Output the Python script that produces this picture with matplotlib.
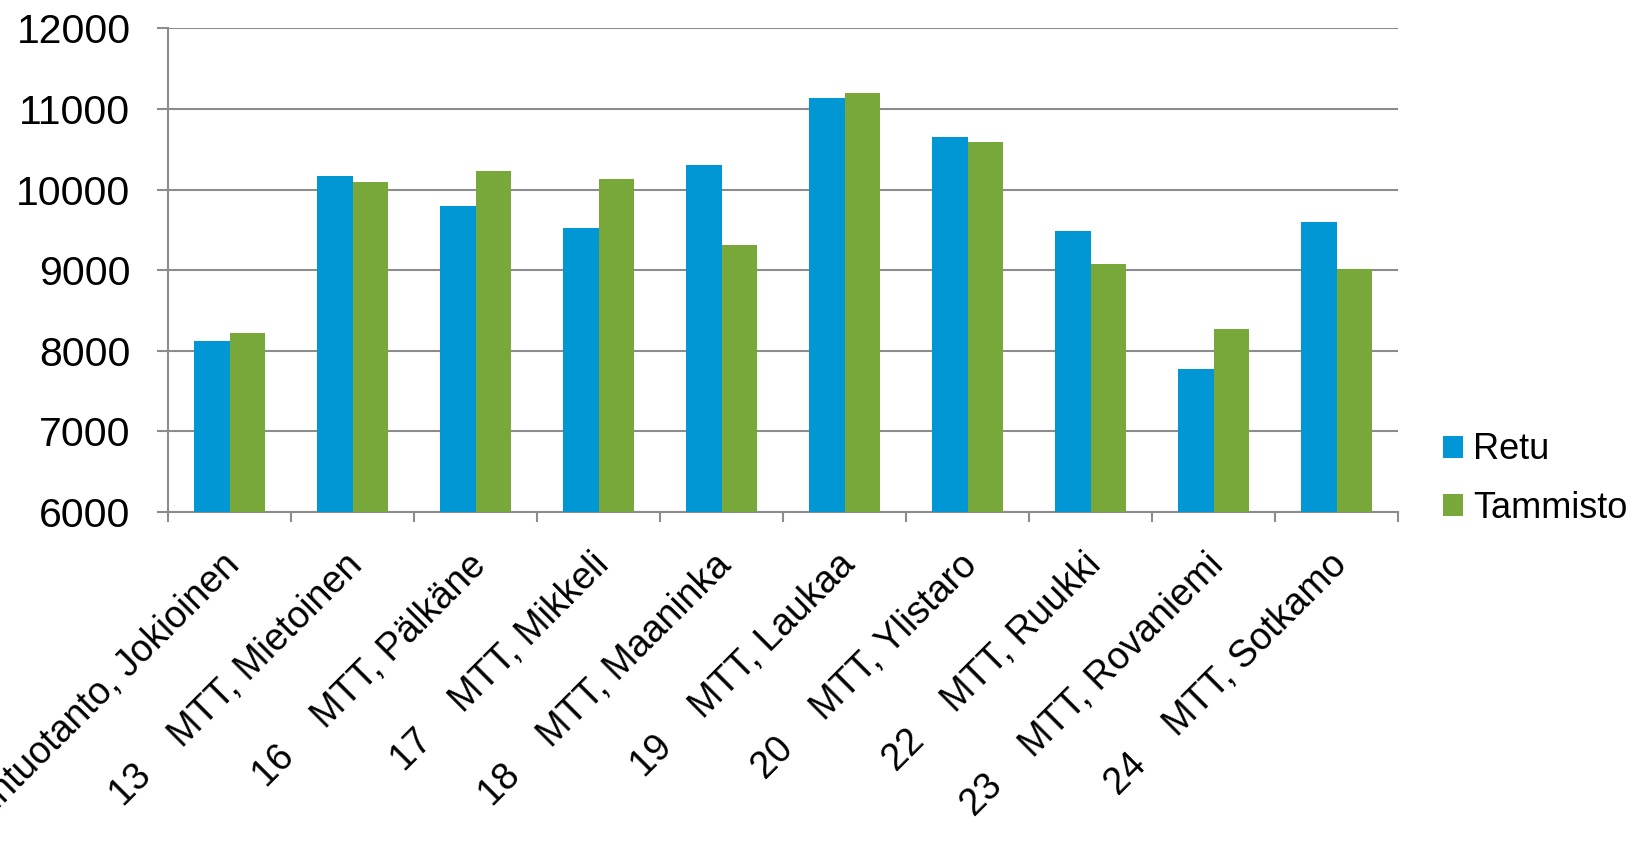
import matplotlib.pyplot as plt
import matplotlib.transforms as mtransforms
import numpy as np

plt.rcParams['font.family'] = ['Liberation Sans', 'DejaVu Sans']

# data
numbers = ['12', '13', '16', '17', '18', '19', '20', '22', '23', '24']
places = ['MTT Kasvintuotanto, Jokioinen', 'MTT, Mietoinen', 'MTT, Pälkäne',
          'MTT, Mikkeli', 'MTT, Maaninka', 'MTT, Laukaa', 'MTT, Ylistaro',
          'MTT, Ruukki', 'MTT, Rovaniemi', 'MTT, Sotkamo']
retu = [8120, 10170, 9790, 9520, 10300, 11130, 10650, 9480, 7770, 9600]
tammisto = [8220, 10090, 10235, 10130, 9310, 11195, 10595, 9080, 8275, 9015]

labels = [n + '    ' + p for n, p in zip(numbers, places)]

blue = '#0097D4'
green = '#78A83A'
grid = '#8C8C8C'

fig = plt.figure(figsize=(16.43, 8.66), dpi=100)
ax = fig.add_axes([168 / 1643, 1 - 512 / 866, (1398 - 168) / 1643, (512 - 28.3) / 866])

x = np.arange(len(labels))
w = 0.285
ax.bar(x - w / 2, retu, w, color=blue, label='Retu', zorder=3)
ax.bar(x + w / 2, tammisto, w, color=green, label='Tammisto', zorder=3)

ax.set_xlim(-0.5, len(labels) - 0.5)
ax.set_ylim(6000, 12000)
ax.set_yticks(range(6000, 12001, 1000))
ax.yaxis.grid(True, color=grid, linewidth=1.5, zorder=0)
ax.tick_params(axis='y', length=8, width=1.5, color=grid, pad=19, labelsize=29.5)

# labels at centres, tick marks at category borders
ax.set_xticks(x)
ax.set_xticklabels(labels, rotation=45, ha='right', va='top',
                   rotation_mode='anchor', fontsize=27)
ax.tick_params(axis='x', which='major', length=0, pad=23)
shift = mtransforms.ScaledTranslation(-8 / 100, -3 / 100, fig.dpi_scale_trans)
for lab in ax.get_xticklabels():
    lab.set_transform(lab.get_transform() + shift)
ax.set_xticks(np.arange(-0.5, len(labels)), minor=True)
ax.tick_params(axis='x', which='minor', length=7, width=1.5, color=grid)

for s in ['top', 'right']:
    ax.spines[s].set_visible(False)
for s in ['left', 'bottom']:
    ax.spines[s].set_color(grid)
    ax.spines[s].set_linewidth(1.5)

fig.legend(loc='center left', bbox_to_anchor=(1443 / 1643, 1 - 479 / 866),
           frameon=False, fontsize=26, handlelength=0.55, handleheight=0.55,
           handletextpad=0.28, labelspacing=0.64, borderpad=0, borderaxespad=0)

fig.savefig('out.png', dpi=100)
